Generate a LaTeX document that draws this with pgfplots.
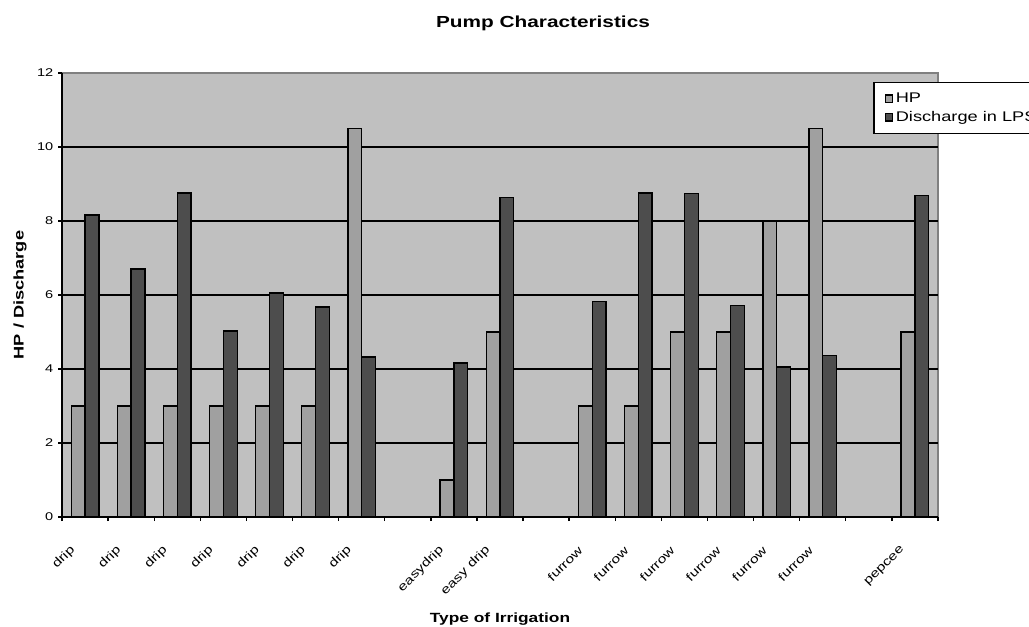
\documentclass[border=0pt]{standalone}
\usepackage{fontspec}
\setmainfont{Liberation Sans}[FakeStretch=1.3]
\usepackage{pgfplots}
\pgfplotsset{compat=1.18}
\definecolor{plotbg}{HTML}{C0C0C0}
\definecolor{hpcol}{HTML}{A0A0A0}
\definecolor{dcol}{HTML}{4D4D4D}
\definecolor{bordergray}{HTML}{808080}
\begin{document}
\begin{tikzpicture}
\begin{axis}[
  at={(46.5pt,81.75pt)}, anchor=south west,
  scale only axis, width=657pt, height=333pt,
  xmin=-0.5, xmax=18.5, ymin=0, ymax=12,
  axis lines=left,
  axis line style={-, black, line width=1pt},
  axis background/.style={fill=plotbg, draw=bordergray, line width=1.2pt},
  /pgf/number format/assume math mode=true,
  tick label style={font=\fontsize{8.4}{10}\selectfont},
  ytick={0,2,4,6,8,10,12},
  extra y ticks={2,4,6,8,10}, extra y tick labels={},
  extra y tick style={grid=major, major grid style={black, line width=1pt}},
  tick align=outside, major tick length=3pt,
  tick style={black, line width=1pt},
  xtick={-0.5,0.5,1.5,2.5,3.5,4.5,5.5,6.5,7.5,8.5,9.5,10.5,11.5,12.5,13.5,14.5,15.5,16.5,17.5,18.5},
  xticklabels={},
  extra x ticks={0,1,2,3,4,5,6,7,8,9,10,11,12,13,14,15,16,17,18},
  extra x tick labels={drip,drip,drip,drip,drip,drip,drip,{},easydrip,easy drip,{},furrow,furrow,furrow,furrow,furrow,furrow,{},pepcee},
  extra x tick style={major tick length=0pt,
    xticklabel style={xshift=-6.5pt, yshift=-21pt, rotate=45, anchor=east, font=\fontsize{9}{10}\selectfont}},
  ybar=0pt, bar width=10.35pt,
  xlabel={Type of Irrigation},
  xlabel style={at={(0.5,-0.2365)}, anchor=base, font=\bfseries\fontsize{10}{12}\selectfont},
  ylabel={HP / Discharge},
  ylabel style={at={(-0.048,0.5)}, anchor=center, rotate=0, font=\bfseries\fontsize{10.5}{12}\selectfont},
  legend style={at={(0.926,0.980)}, anchor=north west, draw=black, line width=1pt, fill=white,
    font=\fontsize{10.5}{12}\selectfont, inner xsep=8pt, inner ysep=5.75pt, row sep=1pt},
  legend cell align=left,
  legend image code/.code={\draw[#1, line width=0.9pt] (0pt,-2.8pt) rectangle (5.6pt,2.8pt);},
]
\addplot[fill=hpcol, draw=black, line width=1pt] coordinates {
 (0,3) (1,3) (2,3) (3,3) (4,3) (5,3) (6,10.5)
 (8,1) (9,5)
 (11,3) (12,3) (13,5) (14,5) (15,8) (16,10.5)
 (18,5)};
\addplot[fill=dcol, draw=black, line width=1pt] coordinates {
 (0,8.16) (1,6.70) (2,8.76) (3,5.03) (4,6.05) (5,5.68) (6,4.32)
 (8,4.16) (9,8.64)
 (11,5.83) (12,8.76) (13,8.74) (14,5.72) (15,4.05) (16,4.37)
 (18,8.69)};
\legend{HP, Discharge in LPS}
\end{axis}
\node[anchor=base, font=\bfseries\fontsize{12}{14}\selectfont, inner sep=0pt] at (407.25pt,448.5pt) {Pump Characteristics};
\pgfresetboundingbox
\useasboundingbox (0,0) rectangle (771.75pt,469.5pt);
\end{tikzpicture}
\end{document}
